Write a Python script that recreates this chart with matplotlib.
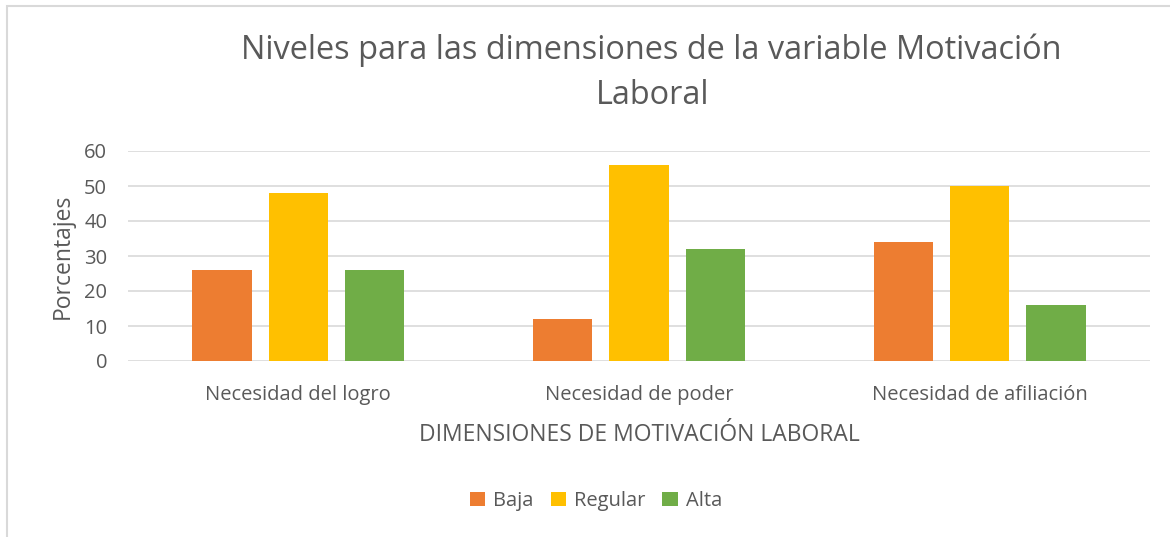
import matplotlib
matplotlib.use("Agg")
import matplotlib.pyplot as plt
from matplotlib.patches import Rectangle
import numpy as np

categories = ["Necesidad del logro", "Necesidad de poder", "Necesidad de afiliación"]
series_names = ["Baja", "Regular", "Alta"]
baja = [26, 12, 34]
regular = [48, 56, 50]
alta = [26, 32, 16]
colors = ["#ED7D31", "#FFC000", "#70AD47"]
yticks = [0, 10, 20, 30, 40, 50, 60]

plt.rcParams['font.family'] = ['Open Sans', 'DejaVu Sans']
txt = "#595959"

fig = plt.figure(figsize=(11.7, 5.37), dpi=100)
fig.patches.append(Rectangle((7/1170, -0.1), 1.2, 1 - 6/537 + 0.1, transform=fig.transFigure,
                             fill=False, edgecolor="#D9D9D9", linewidth=1.5))
ax = fig.add_axes([128/1170, 1 - 361/537, (1150-128)/1170, (361-151)/537])

x = np.arange(len(categories))
w = 0.174
step = 0.224
for i, (vals, name, c) in enumerate(zip([baja, regular, alta], series_names, colors)):
    ax.bar(x + (i - 1) * step, vals, width=w, color=c, label=name, zorder=3)

ax.set_xlim(-0.5, 2.5)
ax.set_ylim(0, 60)
ax.set_yticks(yticks)
ax.set_yticklabels([str(v) for v in yticks], fontsize=14.5, color=txt)
ax.set_xticks(x)
ax.set_xticklabels(categories, fontsize=14.5, color=txt)
ax.tick_params(axis='both', length=0)
ax.tick_params(axis='y', pad=15)
ax.tick_params(axis='x', pad=17)
ax.grid(axis='y', color="#D9D9D9", linewidth=1.2, zorder=0)
for s in ax.spines.values():
    s.set_visible(False)

ax.set_ylabel("Porcentajes", fontsize=16.5, color=txt, labelpad=7)
ax.set_xlabel("DIMENSIONES DE MOTIVACIÓN LABORAL", fontsize=16.5, color=txt, labelpad=13)

fig.text(651/1170, 1 - 50/537, "Niveles para las dimensiones de la variable Motivación",
         ha='center', va='center', fontsize=23.4, color=txt)
fig.text(653/1170, 1 - 96/537, "Laboral", ha='center', va='center', fontsize=23.4, color=txt)

fig.legend(loc='center', bbox_to_anchor=(596/1170, 1 - 501/537), ncol=3, frameon=False,
           fontsize=14.5, labelcolor=txt, handlelength=0.75, handleheight=0.75,
           handletextpad=0.4, columnspacing=0.85)

fig.savefig("out.png", dpi=100)
